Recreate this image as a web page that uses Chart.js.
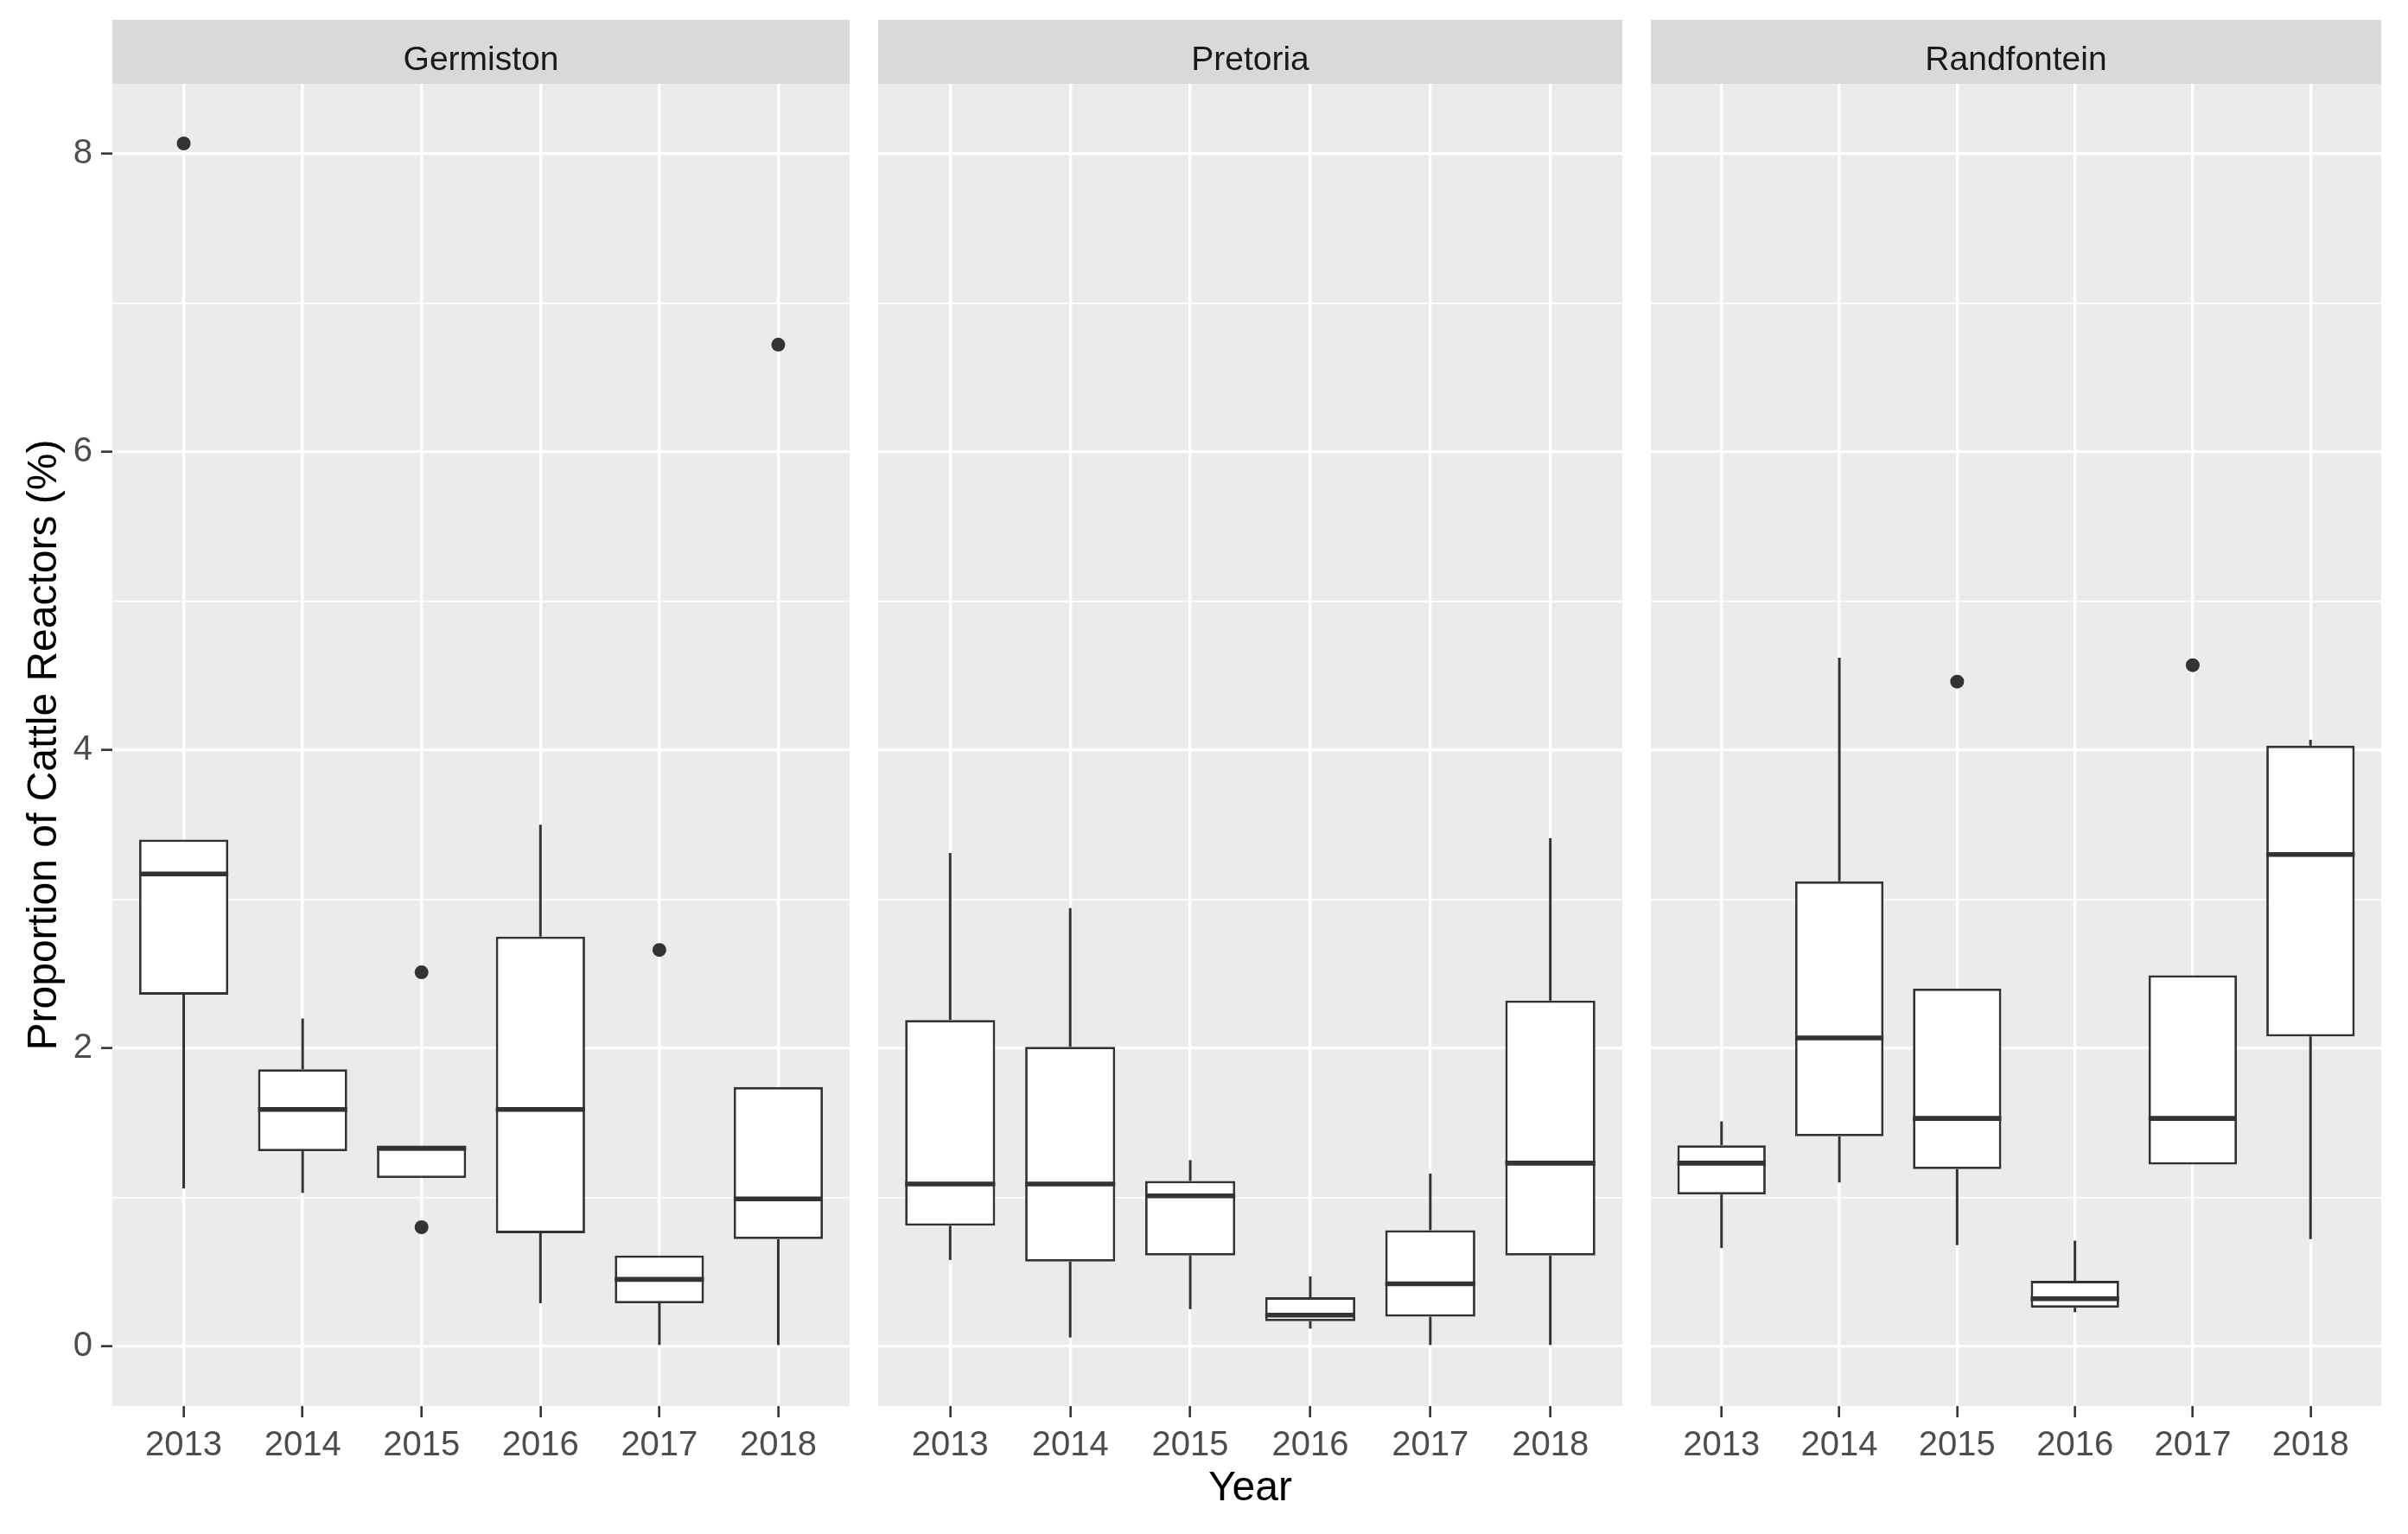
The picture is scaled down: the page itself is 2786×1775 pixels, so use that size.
<!DOCTYPE html>
<html>
<head>
<meta charset="utf-8">
<script src="https://cdn.jsdelivr.net/npm/chart.js@4/dist/chart.umd.min.js"></script>
<style>
  body { margin: 0; background: #ffffff; }
  #wrap { position: relative; width: 2786px; height: 1775px; overflow: hidden; }
  canvas { position: absolute; top: 0; }
</style>
</head>
<body>
<div id="wrap">
  <canvas id="germiston" width="991" height="1775" style="left:0px"></canvas>
  <canvas id="pretoria" width="861" height="1775" style="left:1016px"></canvas>
  <canvas id="randfontein" width="861" height="1775" style="left:1902px"></canvas>
</div>
<script>
// Categories
const years = ['2013', '2014', '2015', '2016', '2017', '2018'];
const yTicks = [0, 1, 2, 3, 4, 5, 6, 7, 8];

// Germiston
const germLow  = [1.06, 1.03, 1.13, 0.29, 0.01, 0.00];
const germQ1   = [2.36, 1.31, 1.13, 0.76, 0.29, 0.72];
const germMed  = [3.17, 1.59, 1.33, 1.59, 0.45, 0.99];
const germQ3   = [3.40, 1.86, 1.33, 2.75, 0.61, 1.74];
const germHigh = [3.40, 2.20, 1.33, 3.50, 0.61, 1.74];
const germOut  = [[8.07], [], [2.51, 0.80], [], [2.66], [6.72]];

// Pretoria
const pretLow  = [0.58, 0.06, 0.25, 0.12, 0.01, 0.01];
const pretQ1   = [0.81, 0.57, 0.61, 0.17, 0.20, 0.61];
const pretMed  = [1.09, 1.09, 1.01, 0.21, 0.42, 1.23];
const pretQ3   = [2.19, 2.01, 1.11, 0.33, 0.78, 2.32];
const pretHigh = [3.31, 2.94, 1.25, 0.47, 1.16, 3.41];
const pretOut  = [[], [], [], [], [], []];

// Randfontein
const randLow  = [0.66, 1.10, 0.68, 0.23, 1.22, 0.72];
const randQ1   = [1.02, 1.41, 1.19, 0.26, 1.22, 2.08];
const randMed  = [1.23, 2.07, 1.53, 0.32, 1.53, 3.30];
const randQ3   = [1.35, 3.12, 2.40, 0.44, 2.49, 4.03];
const randHigh = [1.51, 4.62, 2.40, 0.71, 2.49, 4.07];
const randOut  = [[], [], [4.46], [], [4.57], []];

const FONT = 'Liberation Sans, Arial, sans-serif';
const DARK = '#333333';

// panel background + facet strip
const panelPlugin = {
    id: 'panelPlugin',
    beforeDraw(chart, args, opts) {
        const {ctx, chartArea} = chart;
        ctx.save();
        ctx.fillStyle = '#EBEBEB';
        ctx.fillRect(chartArea.left, chartArea.top, chartArea.right - chartArea.left, chartArea.bottom - chartArea.top);
        ctx.fillStyle = '#D9D9D9';
        ctx.fillRect(chartArea.left, 23, chartArea.right - chartArea.left, chartArea.top - 23);
        ctx.fillStyle = '#1A1A1A';
        ctx.font = '39px ' + FONT;
        ctx.textAlign = 'center';
        ctx.textBaseline = 'alphabetic';
        ctx.fillText(opts.strip, (chartArea.left + chartArea.right) / 2, 81);
        ctx.restore();
    }
};

// median segments across each box
const medianPlugin = {
    id: 'medianPlugin',
    afterDatasetsDraw(chart, args, opts) {
        const meta = chart.getDatasetMeta(1);
        const yScale = chart.scales.y;
        const ctx = chart.ctx;
        ctx.save();
        ctx.strokeStyle = DARK;
        ctx.lineWidth = 5.6;
        meta.data.forEach((bar, i) => {
            const y = yScale.getPixelForValue(opts.medians[i]);
            ctx.beginPath();
            ctx.moveTo(bar.x - bar.width / 2, y);
            ctx.lineTo(bar.x + bar.width / 2, y);
            ctx.stroke();
        });
        ctx.restore();
    }
};

function makePanel(id, strip, low, q1, med, q3, high, out, first, xTitle) {
    const boxData = years.map((y, i) => ({x: i + 1, y: [q1[i], q3[i]]}));
    const lowData = years.map((y, i) => ({x: i + 1, y: [low[i], q1[i]]}));
    const highData = years.map((y, i) => ({x: i + 1, y: [q3[i], high[i]]}));
    const outData = [];
    out.forEach((vals, i) => vals.forEach(v => outData.push({x: i + 1, y: v})));

    return new Chart(document.getElementById(id), {
        type: 'bar',
        data: {
            datasets: [
                {
                    type: 'scatter',
                    data: outData,
                    pointRadius: 8,
                    pointBackgroundColor: DARK,
                    pointBorderWidth: 0,
                    showLine: false,
                    order: 0
                },
                {
                    data: boxData,
                    backgroundColor: '#ffffff',
                    borderColor: DARK,
                    borderWidth: 2.8,
                    borderSkipped: false,
                    grouped: false,
                    barPercentage: 0.75,
                    categoryPercentage: 1.0,
                    order: 1
                },
                {
                    data: lowData,
                    backgroundColor: DARK,
                    borderWidth: 0,
                    grouped: false,
                    maxBarThickness: 3,
                    order: 2
                },
                {
                    data: highData,
                    backgroundColor: DARK,
                    borderWidth: 0,
                    grouped: false,
                    maxBarThickness: 3,
                    order: 2
                }
            ]
        },
        options: {
            responsive: false,
            animation: false,
            devicePixelRatio: 1,
            layout: {
                padding: {top: 97, right: 0, bottom: 0, left: 0}
            },
            plugins: {
                legend: {display: false},
                tooltip: {enabled: false},
                panelPlugin: {strip: strip},
                medianPlugin: {medians: med}
            },
            scales: {
                x: {
                    type: 'linear',
                    offset: false,
                    min: 0.4,
                    max: 6.6,
                    afterBuildTicks: s => { s.ticks = years.map((y, i) => ({value: i + 1})); },
                    afterFit: s => { s.height = 148; },
                    border: {display: false},
                    grid: {
                        offset: false,
                        color: '#ffffff',
                        lineWidth: 3.3,
                        tickLength: 13,
                        tickColor: DARK,
                        tickWidth: 2.6
                    },
                    ticks: {
                        padding: 9,
                        color: '#4D4D4D',
                        font: {family: FONT, size: 40},
                        maxRotation: 0,
                        autoSkip: false,
                        callback: v => years[v - 1]
                    },
                    title: {
                        display: !!xTitle,
                        text: xTitle || '',
                        color: '#000000',
                        font: {family: FONT, size: 48},
                        padding: {top: 0, bottom: 23}
                    }
                },
                y: {
                    type: 'linear',
                    min: -0.4,
                    max: 8.47,
                    afterBuildTicks: s => { s.ticks = yTicks.map(v => ({value: v})); },
                    afterFit: s => { s.width = first ? 130 : 0; },
                    border: {display: false},
                    grid: {
                        color: '#ffffff',
                        lineWidth: c => (c.tick && c.tick.value % 2 === 0) ? 3.3 : 1.65,
                        drawTicks: first,
                        tickLength: 13,
                        tickColor: c => (c.tick && c.tick.value % 2 === 0) ? DARK : 'rgba(0,0,0,0)',
                        tickWidth: 2.6
                    },
                    ticks: {
                        display: first,
                        padding: 10,
                        color: '#4D4D4D',
                        font: {family: FONT, size: 40},
                        callback: v => (v % 2 === 0 ? String(v) : '')
                    },
                    title: {
                        display: first,
                        text: 'Proportion of Cattle Reactors (%)',
                        color: '#000000',
                        font: {family: FONT, size: 48},
                        padding: {top: 23, bottom: 0}
                    }
                }
            }
        },
        plugins: [panelPlugin, medianPlugin]
    });
}

makePanel('germiston', 'Germiston', germLow, germQ1, germMed, germQ3, germHigh, germOut, true, null);
makePanel('pretoria', 'Pretoria', pretLow, pretQ1, pretMed, pretQ3, pretHigh, pretOut, false, 'Year');
makePanel('randfontein', 'Randfontein', randLow, randQ1, randMed, randQ3, randHigh, randOut, false, null);
</script>
</body>
</html>
